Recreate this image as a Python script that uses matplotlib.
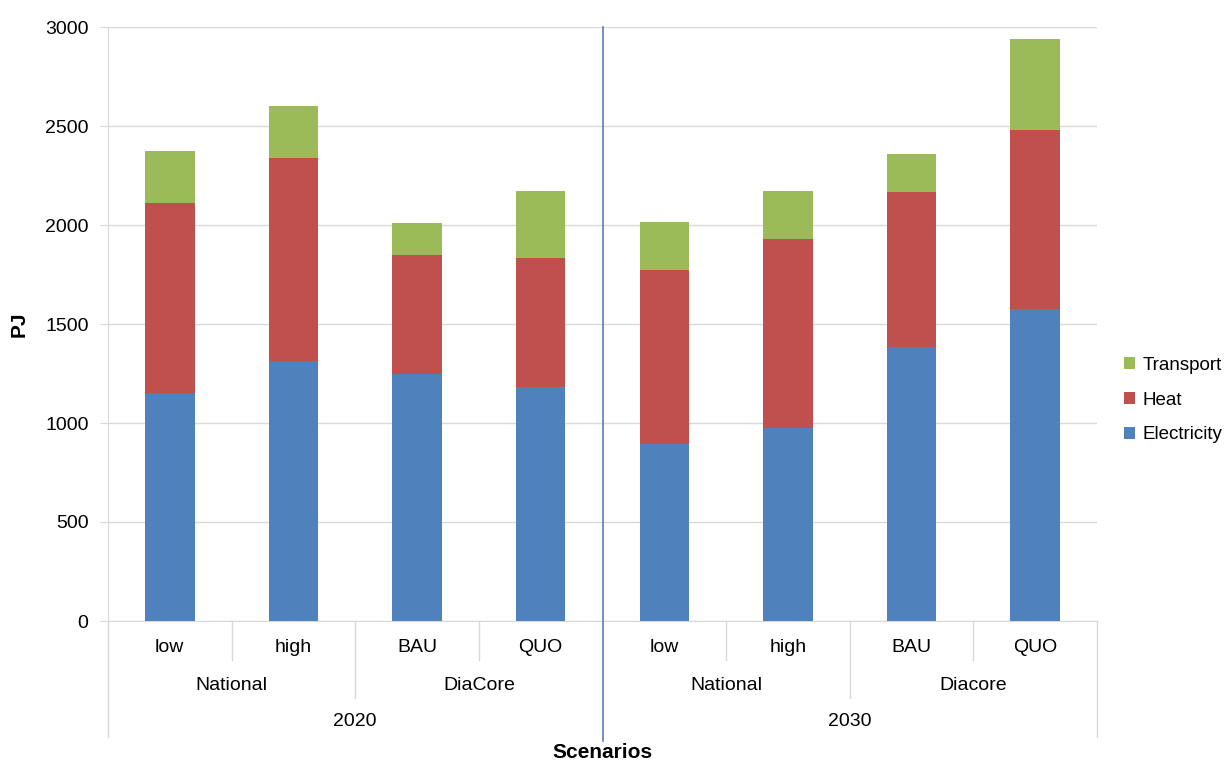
import matplotlib.pyplot as plt
import numpy as np

plt.rcParams['font.family'] = ['Liberation Sans', 'DejaVu Sans']

# data (PJ)
scenarios = ['low', 'high', 'BAU', 'QUO', 'low', 'high', 'BAU', 'QUO']
groups = ['National', 'DiaCore', 'National', 'Diacore']
years = ['2020', '2030']
electricity = [1150, 1315, 1250, 1180, 895, 975, 1385, 1575]
heat = [960, 1025, 600, 655, 880, 955, 780, 905]
transport = [265, 260, 160, 335, 240, 240, 195, 460]

c_el = '#4F81BD'
c_heat = '#C0504D'
c_tr = '#9BBB59'
grid_c = '#D9D9D9'

W, H = 1224, 763
fig = plt.figure(figsize=(W / 100, H / 100), dpi=100)
left, right, y0, y3000 = 108, 1097, 621, 27
ax = fig.add_axes([left / W, 1 - y0 / H, (right - left) / W, (y0 - y3000) / H])

x = np.arange(len(scenarios))
el = np.array(electricity)
ht = np.array(heat)
tr = np.array(transport)
ax.bar(x, el, 0.4, color=c_el, label='Electricity', zorder=3)
ax.bar(x, ht, 0.4, bottom=el, color=c_heat, label='Heat', zorder=3)
ax.bar(x, tr, 0.4, bottom=el + ht, color=c_tr, label='Transport', zorder=3)

ax.set_xlim(-0.5, len(scenarios) - 0.5)
ax.set_ylim(0, 3000)
ax.set_yticks(np.arange(0, 3001, 500))
ax.yaxis.grid(True, color=grid_c, lw=1)
ax.set_axisbelow(True)
ax.tick_params(axis='y', length=6, color=grid_c, labelsize=14, pad=8)
ax.tick_params(axis='x', length=0, labelbottom=False)
for s in ['top', 'right']:
    ax.spines[s].set_visible(False)
ax.spines['left'].set_color(grid_c)
ax.spines['bottom'].set_color(grid_c)

# multi-level category labels
trans = ax.get_xaxis_transform()
px = 1 / (y0 - y3000)  # one pixel in axes fraction
for i, s in enumerate(scenarios):
    ax.text(i, -26 * px, s, transform=trans, ha='center', va='center', fontsize=14)
for j, g in enumerate(groups):
    ax.text(2 * j + 0.5, -64 * px, g, transform=trans, ha='center', va='center', fontsize=14)
for k, yr in enumerate(years):
    ax.text(4 * k + 1.5, -101 * px, yr, transform=trans, ha='center', va='center', fontsize=14)

# separator lines below the axis
for b in np.arange(0.5, len(scenarios) - 1, 1.0):
    if b in (3.5,):
        continue
    depth = 77 if b in (1.5, 5.5) else 39
    ax.plot([b, b], [0, -depth * px], transform=trans, color=grid_c, lw=1, clip_on=False)
for b in (-0.5, len(scenarios) - 0.5):
    ax.plot([b, b], [0, -116 * px], transform=trans, color=grid_c, lw=1, clip_on=False)
# year divider
ax.plot([3.5, 3.5], [1, -120 * px], transform=trans, color='#4F81BD', lw=1.2, clip_on=False, zorder=4)

ax.set_ylabel('PJ', fontsize=15, fontweight='bold', labelpad=12)
ax.text(0.5, -132 * px, 'Scenarios', transform=ax.transAxes, ha='center', va='center',
        fontsize=15, fontweight='bold')

handles, labels = ax.get_legend_handles_labels()
ax.legend(handles[::-1], labels[::-1], loc='center left', bbox_to_anchor=(1.027, 0.372),
          frameon=False, fontsize=13.5, handlelength=0.6, handleheight=0.6,
          handletextpad=0.4, labelspacing=0.95, borderpad=0, borderaxespad=0)

fig.savefig('out.png', dpi=100)
